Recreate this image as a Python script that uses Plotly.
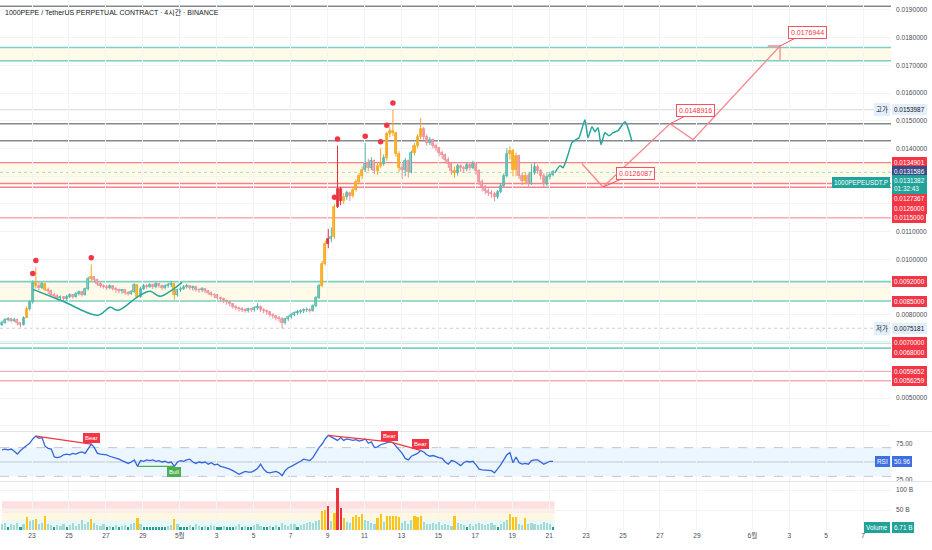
import plotly.graph_objects as go
import pandas as pd

# ---------------- data ----------------
start_time = "2025-04-21 09:00"
first_open = 0.00765
close = [0.00772,0.00781,0.00785,0.00779,0.00783,0.00770,0.00765,0.00790,0.00822,0.00845,
         0.00915,0.00905,0.00898,0.00912,0.00890,0.00886,0.00872,0.00868,0.00860,0.00863,
         0.00858,0.00866,0.00870,0.00866,0.00876,0.00881,0.00872,0.00892,0.00930,0.00935,
         0.00925,0.00912,0.00905,0.00902,0.00898,0.00903,0.00895,0.00889,0.00885,0.00888,
         0.00880,0.00877,0.00884,0.00908,0.00866,0.00895,0.00905,0.00902,0.00908,0.00900,
         0.00911,0.00905,0.00897,0.00903,0.00908,0.00912,0.00872,0.00888,0.00895,0.00900,
         0.00904,0.00896,0.00900,0.00890,0.00888,0.00893,0.00885,0.00880,0.00872,0.00870,
         0.00862,0.00858,0.00850,0.00845,0.00838,0.00830,0.00825,0.00822,0.00818,0.00815,
         0.00820,0.00817,0.00824,0.00830,0.00818,0.00815,0.00810,0.00800,0.00795,0.00790,
         0.00786,0.00772,0.00784,0.00792,0.00800,0.00806,0.00810,0.00813,0.00816,0.00819,
         0.00815,0.00832,0.00862,0.00905,0.00985,0.01055,0.01075,0.01080,0.01190,0.01255,
         0.01210,0.01225,0.01238,0.01228,0.01252,0.01280,0.01300,0.01322,0.01345,0.01330,
         0.01355,0.01320,0.01338,0.01345,0.01365,0.01452,0.01462,0.01455,0.01380,0.01330,
         0.01322,0.01356,0.01315,0.01382,0.01410,0.01440,0.01472,0.01442,0.01420,0.01432,
         0.01410,0.01400,0.01385,0.01375,0.01360,0.01345,0.01320,0.01310,0.01335,0.01330,
         0.01325,0.01340,0.01330,0.01345,0.01318,0.01280,0.01260,0.01248,0.01240,0.01235,
         0.01226,0.01242,0.01266,0.01300,0.01380,0.01392,0.01322,0.01372,0.01302,0.01282,
         0.01302,0.01272,0.01312,0.01332,0.01320,0.01300,0.01272,0.01296,0.01306,0.0131382]
high = [0.00780,0.00788,0.00792,0.00790,0.00789,0.00786,0.00774,0.00795,0.00830,0.00852,
        0.00925,0.00972,0.00918,0.00920,0.00915,0.00898,0.00890,0.00880,0.00874,0.00870,
        0.00868,0.00872,0.00878,0.00875,0.00882,0.00888,0.00886,0.00898,0.00938,0.00982,
        0.00940,0.00930,0.00918,0.00910,0.00908,0.00910,0.00906,0.00900,0.00895,0.00894,
        0.00892,0.00886,0.00890,0.00914,0.00910,0.00902,0.00912,0.00912,0.00915,0.00912,
        0.00918,0.00915,0.00910,0.00910,0.00916,0.00922,0.00915,0.00895,0.00902,0.00908,
        0.00912,0.00908,0.00906,0.00905,0.00896,0.00900,0.00897,0.00890,0.00884,0.00878,
        0.00874,0.00866,0.00862,0.00855,0.00850,0.00842,0.00835,0.00830,0.00828,0.00824,
        0.00826,0.00825,0.00830,0.00842,0.00834,0.00824,0.00820,0.00814,0.00806,0.00800,
        0.00796,0.00792,0.00790,0.00798,0.00806,0.00812,0.00818,0.00820,0.00824,0.00826,
        0.00824,0.00838,0.00868,0.00912,0.00995,0.01068,0.01110,0.01115,0.01200,0.01410,
        0.01262,0.01240,0.01248,0.01245,0.01262,0.01288,0.01312,0.01335,0.01420,0.01362,
        0.01368,0.01360,0.01350,0.01400,0.01378,0.01460,0.01478,0.0153987,0.01460,0.01390,
        0.01345,0.01366,0.01360,0.01392,0.01420,0.01452,0.01510,0.01478,0.01450,0.01442,
        0.01436,0.01418,0.01405,0.01392,0.01382,0.01368,0.01350,0.01335,0.01345,0.01342,
        0.01338,0.01350,0.01346,0.01356,0.01350,0.01325,0.01288,0.01268,0.01256,0.01250,
        0.01244,0.01250,0.01275,0.01310,0.01400,0.01408,0.01398,0.01385,0.01378,0.01312,
        0.01315,0.01310,0.01345,0.01348,0.01342,0.01326,0.01310,0.01310,0.01316,0.01322]
low = [0.00760,0.00768,0.00776,0.00772,0.00774,0.00762,0.00755,0.00762,0.00788,0.00815,
       0.00840,0.00895,0.00888,0.00893,0.00885,0.00875,0.00865,0.00858,0.00852,0.00855,
       0.00850,0.00852,0.00860,0.00858,0.00862,0.00870,0.00866,0.00870,0.00888,0.00922,
       0.00915,0.00905,0.00898,0.00895,0.00890,0.00892,0.00888,0.00880,0.00878,0.00876,
       0.00872,0.00870,0.00872,0.00880,0.00862,0.00862,0.00890,0.00895,0.00898,0.00893,
       0.00896,0.00898,0.00890,0.00892,0.00898,0.00900,0.00855,0.00866,0.00882,0.00890,
       0.00895,0.00890,0.00888,0.00884,0.00880,0.00882,0.00878,0.00872,0.00866,0.00860,
       0.00855,0.00848,0.00843,0.00836,0.00830,0.00822,0.00816,0.00812,0.00810,0.00808,
       0.00808,0.00810,0.00812,0.00818,0.00810,0.00806,0.00800,0.00792,0.00786,0.00780,
       0.00774,0.0075181,0.00765,0.00778,0.00786,0.00795,0.00800,0.00804,0.00806,0.00810,
       0.00808,0.00812,0.00828,0.00858,0.00900,0.00978,0.01040,0.01062,0.01075,0.01185,
       0.01195,0.01200,0.01215,0.01210,0.01222,0.01245,0.01272,0.01290,0.01315,0.01318,
       0.01322,0.01308,0.01305,0.01330,0.01338,0.01355,0.01440,0.01445,0.01370,0.01315,
       0.01290,0.01300,0.01295,0.01310,0.01375,0.01402,0.01432,0.01430,0.01410,0.01412,
       0.01400,0.01390,0.01372,0.01362,0.01350,0.01330,0.01305,0.01295,0.01302,0.01316,
       0.01312,0.01318,0.01320,0.01325,0.01305,0.01268,0.01245,0.01235,0.01228,0.01222,
       0.01210,0.01218,0.01238,0.01260,0.01295,0.01360,0.01300,0.01300,0.01290,0.01268,
       0.01272,0.01262,0.01268,0.01305,0.01308,0.01288,0.01262,0.01265,0.01288,0.01300]
volume_b = [14,18,7,16,12,17,7,15,33,22,
            25,28,16,18,35,15,12,7,13,10,
            15,8,12,17,11,14,24,16,19,28,
            18,12,9,14,7,11,8,13,7,10,
            12,7,15,18,29,14,8,7,8,7,
            8,7,8,7,9,12,27,14,7,8,
            7,12,8,15,10,7,11,8,13,9,
            7,8,10,7,8,7,9,14,8,10,
            7,8,12,16,9,7,8,10,7,13,
            8,18,12,10,14,16,8,12,15,17,
            20,18,22,25,48,51,60,22,42,106,
            54,29,20,18,33,37,32,39,24,22,
            18,16,29,39,20,36,35,34,35,33,
            18,22,16,24,35,33,34,20,16,14,
            18,15,20,13,16,12,10,35,18,15,
            12,8,16,10,14,18,15,12,16,18,
            12,8,14,20,24,40,33,32,15,13,
            29,14,18,16,12,15,20,18,14,6.71]
rsi = [67,68,67,68,65,61,66,70,73,76,
       82,86,83,84,72,69,68,57,56,57,
       60,61,60,62,61,63,64,62,68,75,
       70,62,61,61,60,58,57,55,54,52,
       50,48,50,53,44,52,51,53,52,53,
       51,52,50,51,49,50,44,50,52,51,
       53,54,50,48,50,49,50,47,49,46,
       47,44,43,42,40,38,36,33,35,37,
       36,36,38,41,47,40,36,35,36,37,
       35,31,38,42,44,46,48,51,54,53,
       52,56,64,70,75,82,87,85,82,80,
       84,80,82,81,80,81,79,80,82,76,
       78,70,71,74,75,76,78,77,72,67,
       62,55,53,58,60,62,66,64,60,58,
       59,57,56,55,50,47,52,51,48,45,
       49,51,50,51,46,40,39,39,38,38,
       35,40,46,53,60,63,49,57,49,47,
       48,47,52,53,53,50,47,49,51,50.96]
pivot_high_idx = [10, 11, 29, 108, 109, 118, 123, 125, 127]
bear_pairs = [(11, 29), (106, 126), (126, 136)]
bull_pairs = [(44, 56)]

teal_levels = [0.01764, 0.01716, 0.0092, 0.0085, 0.0070, 0.0068]
red_levels = [0.0134901, 0.0127367, 0.0126]
pink_levels = [0.0115, 0.0059652, 0.0056259]
gray_levels = [0.01913, 0.0148916, 0.01428]
high_price = 0.0153987
low_price = 0.0075181
last_price = 0.0131382
indicator_price = 0.0131586
zones = [(0.01716, 0.01764), (0.0127367, 0.0134901), (0.0085, 0.0092)]
red_label_vals = [0.0134901, 0.0127367, 0.0126, 0.0115, 0.0092, 0.0085,
                  0.0070, 0.0068, 0.0059652, 0.0056259]

proj_t = ["2025-05-22 18:40", "2025-05-23 22:00", "2025-05-27 13:00",
          "2025-05-28 19:00", "2025-06-02 12:00"]
proj_p = [0.013450, 0.0126087, 0.0148916, 0.014320, 0.0176944]
target_t = ["2025-06-01 20:00", "2025-06-02 12:00", "2025-06-02 12:00"]
target_p = [0.0176944, 0.0176944, 0.01720]

curve_left_t = ["2025-04-23 01:18", "2025-04-24 16:17", "2025-04-26 13:45", "2025-04-27 05:21",
                "2025-04-27 15:45", "2025-04-28 16:26", "2025-04-29 09:20", "2025-04-29 22:19",
                "2025-04-30 15:13", "2025-05-01 02:54"]
curve_left_p = [0.008921, 0.008489, 0.007986, 0.008273, 0.008165, 0.008633, 0.008849,
                0.008669, 0.008921, 0.009173]
curve_right_t = ["2025-05-21 07:35", "2025-05-21 14:05", "2025-05-21 18:00", "2025-05-22 00:29",
                 "2025-05-22 05:41", "2025-05-22 10:53", "2025-05-22 14:47", "2025-05-22 22:35",
                 "2025-05-23 02:28", "2025-05-23 07:40", "2025-05-23 11:34", "2025-05-23 15:28",
                 "2025-05-23 19:22", "2025-05-24 00:34", "2025-05-24 05:46", "2025-05-24 10:58",
                 "2025-05-24 17:28", "2025-05-25 02:33", "2025-05-25 06:27", "2025-05-25 11:39"]
curve_right_p = [0.013129, 0.013381, 0.013309, 0.013777, 0.014209, 0.014317, 0.014388, 0.015036,
                 0.014388, 0.014784, 0.014604, 0.014748, 0.014137, 0.014568, 0.014460, 0.014568,
                 0.014640, 0.014964, 0.014748, 0.014245]

vol_band_edges = [0, 25, 42, 55, 72]

tick_dates = ["2025-04-23", "2025-04-25", "2025-04-27", "2025-04-29", "2025-05-01", "2025-05-03",
              "2025-05-05", "2025-05-07", "2025-05-09", "2025-05-11", "2025-05-13", "2025-05-15",
              "2025-05-17", "2025-05-19", "2025-05-21", "2025-05-23", "2025-05-25", "2025-05-27",
              "2025-05-29", "2025-06-01", "2025-06-03", "2025-06-05", "2025-06-07"]
tick_text = ["23", "25", "27", "29", "5월", "3", "5", "7", "9", "11", "13", "15", "17", "19",
             "21", "23", "25", "27", "29", "6월", "3", "5", "7"]
price_ticks = [0.004, 0.005, 0.006, 0.007, 0.008, 0.009, 0.010, 0.011, 0.012, 0.013,
               0.014, 0.015, 0.016, 0.017, 0.018, 0.019]
price_tick_text = ["", "0.0050000", "", "", "0.0080000", "", "0.0100000", "0.0110000", "", "",
                   "0.0140000", "0.0150000", "0.0160000", "0.0170000", "0.0180000", "0.0190000"]

title = "1000PEPE / TetherUS PERPETUAL CONTRACT · 4시간 · BINANCE"

# ---------------- build ----------------
FONT = "Liberation Sans, Noto Sans CJK KR, sans-serif"
AX_FS = 6.6
LB_FS = 6.4
t = pd.date_range(start_time, periods=len(close), freq="4h")
opens = [first_open] + close[:-1]
n = len(close)

def vclass(v):
    if v >= 53:
        return "r"
    if v >= 26:
        return "y"
    if v < 9:
        return "d"
    return "n"

cls = [vclass(v) for v in volume_b]

def candle_style(i):
    c = cls[i]
    if c == "y":
        return "#fbc02d", "#f5a623"
    if c == "r":
        return "#ec3440", "#e0303b"
    if close[i] >= opens[i]:
        return "#a9d6cf", "#4fb6a8"
    return "#dcbcc2", "#f28b95"

fills, edges = zip(*[candle_style(i) for i in range(n)])

fig = go.Figure()

shapes = []
for lo, hi in zones:
    shapes.append(dict(type="rect", xref="paper", x0=0, x1=1, yref="y", y0=lo, y1=hi,
                       fillcolor="#fffbe8", line=dict(width=0), layer="below"))
for lv in teal_levels:
    shapes.append(dict(type="line", xref="paper", x0=0, x1=1, yref="y", y0=lv, y1=lv,
                       line=dict(color="#7ccfc2", width=1.6), layer="below"))
for lv in red_levels:
    shapes.append(dict(type="line", xref="paper", x0=0, x1=1, yref="y", y0=lv, y1=lv,
                       line=dict(color="#f7808b", width=1.4), layer="below"))
for lv in pink_levels:
    shapes.append(dict(type="line", xref="paper", x0=0, x1=1, yref="y", y0=lv, y1=lv,
                       line=dict(color="#f9a9b0", width=1.6), layer="below"))
for lv in gray_levels:
    shapes.append(dict(type="line", xref="paper", x0=0, x1=1, yref="y", y0=lv, y1=lv,
                       line=dict(color="#86888f", width=1.5), layer="below"))
shapes.append(dict(type="line", xref="paper", x0=0, x1=1, yref="y", y0=high_price, y1=high_price,
                   line=dict(color="#d6d8de", width=1), layer="below"))
shapes.append(dict(type="line", xref="paper", x0=0, x1=1, yref="y", y0=low_price, y1=low_price,
                   line=dict(color="#c9ccd3", width=1, dash="dot"), layer="below"))
shapes.append(dict(type="line", xref="paper", x0=0, x1=1, yref="y", y0=last_price, y1=last_price,
                   line=dict(color="#9fdcd5", width=1, dash="dot"), layer="below"))
shapes.append(dict(type="rect", xref="paper", x0=0, x1=1, yref="y2", y0=30, y1=70,
                   fillcolor="rgba(33,150,243,0.09)", line=dict(width=0), layer="below"))
for lv, d in [(70, "dash"), (30, "dash"), (50, "solid")]:
    shapes.append(dict(type="line", xref="paper", x0=0, x1=1, yref="y2", y0=lv, y1=lv,
                       line=dict(color="#c3c7d2", width=1, dash=d), layer="below"))
band_colors = ["#eaf7f7", "#fef8e2", "#fdece3", "#fde0e1"]
for k in range(len(vol_band_edges) - 1):
    shapes.append(dict(type="rect", xref="x", x0=t[0], x1=t[-1] + pd.Timedelta(hours=2),
                       yref="y3", y0=vol_band_edges[k], y1=vol_band_edges[k + 1],
                       fillcolor=band_colors[k], line=dict(width=0), layer="below"))
for yp in [1 - 431.5 / 530, 1 - 481.5 / 530]:
    shapes.append(dict(type="line", xref="paper", x0=0, x1=1.05, yref="paper", y0=yp, y1=yp,
                       line=dict(color="#e0e3eb", width=1)))

# wicks
wick_groups = {}
for i in range(n):
    wick_groups.setdefault(edges[i], []).append(i)
for col, idxs in wick_groups.items():
    xs, ys = [], []
    for i in idxs:
        xs += [t[i], t[i], None]
        ys += [low[i], high[i], None]
    fig.add_trace(go.Scatter(x=xs, y=ys, mode="lines", line=dict(color=col, width=1),
                             hoverinfo="skip", showlegend=False, xaxis="x", yaxis="y"))

# bodies
fig.add_trace(go.Bar(x=t, y=[max(abs(c - o), 0.00002) for o, c in zip(opens, close)],
                     base=[min(o, c) for o, c in zip(opens, close)],
                     width=4 * 3600 * 1000 * 0.66,
                     marker=dict(color=list(fills), line=dict(color=list(edges), width=0.8)),
                     hoverinfo="skip", showlegend=False, xaxis="x", yaxis="y"))

fig.add_trace(go.Scatter(x=[t[i] for i in pivot_high_idx],
                         y=[high[i] + 0.00024 for i in pivot_high_idx],
                         mode="markers", marker=dict(color="#f23645", size=5.5),
                         hoverinfo="skip", showlegend=False, xaxis="x", yaxis="y"))

fig.add_trace(go.Scatter(x=curve_left_t, y=curve_left_p, mode="lines",
                         line=dict(color="#26a69a", width=1.5, shape="spline", smoothing=1.0),
                         hoverinfo="skip", showlegend=False, xaxis="x", yaxis="y"))
fig.add_trace(go.Scatter(x=curve_right_t, y=curve_right_p, mode="lines",
                         line=dict(color="#26a69a", width=1.5, shape="spline", smoothing=0.6),
                         hoverinfo="skip", showlegend=False, xaxis="x", yaxis="y"))
fig.add_trace(go.Scatter(x=proj_t, y=proj_p, mode="lines", line=dict(color="#f7868e", width=1.3),
                         hoverinfo="skip", showlegend=False, xaxis="x", yaxis="y"))
fig.add_trace(go.Scatter(x=target_t, y=target_p, mode="lines", line=dict(color="#f7868e", width=1.3),
                         hoverinfo="skip", showlegend=False, xaxis="x", yaxis="y"))

fig.add_trace(go.Scatter(x=t, y=rsi, mode="lines", line=dict(color="#3366dd", width=1.3),
                         hoverinfo="skip", showlegend=False, xaxis="x", yaxis="y2"))
for a, b in bear_pairs:
    fig.add_trace(go.Scatter(x=[t[a], t[b]], y=[rsi[a], rsi[b]], mode="lines",
                             line=dict(color="#f23645", width=1.3),
                             hoverinfo="skip", showlegend=False, xaxis="x", yaxis="y2"))
for a, b in bull_pairs:
    fig.add_trace(go.Scatter(x=[t[a], t[b]], y=[rsi[a], rsi[b]], mode="lines",
                             line=dict(color="#4caf50", width=1.3),
                             hoverinfo="skip", showlegend=False, xaxis="x", yaxis="y2"))

vcol = {"n": "#a3dad4", "d": "#22a093", "y": "#fcc419", "r": "#f0303a"}
fig.add_trace(go.Bar(x=t, y=volume_b, width=4 * 3600 * 1000 * 0.7,
                     marker=dict(color=[vcol[c] for c in cls], line=dict(width=0)),
                     hoverinfo="skip", showlegend=False, xaxis="x", yaxis="y3"))

# ---------------- annotations ----------------
ann = []
def axis_label(text, y, yref, bg, fg, yshift=0):
    ann.append(dict(text=text, xref="paper", x=1, xanchor="left", xshift=1, yref=yref, y=y,
                    yanchor="middle", yshift=yshift, showarrow=False, bgcolor=bg,
                    bordercolor=bg, borderwidth=1, borderpad=1,
                    font=dict(family=FONT, size=LB_FS, color=fg), align="left"))

def side_tag(text, y, yref, bg, fg, yshift=0):
    ann.append(dict(text=text, xref="paper", x=1, xanchor="right", xshift=-1, yref=yref, y=y,
                    yanchor="middle", yshift=yshift, showarrow=False, bgcolor=bg,
                    bordercolor=bg, borderwidth=1, borderpad=1,
                    font=dict(family=FONT, size=LB_FS, color=fg)))

shift = {0.0127367: -15, 0.0126: -21, 0.0068: -4}
for v in red_label_vals:
    axis_label(f"{v:.7f}", v, "y", "#f23645", "white", shift.get(v, 0))
axis_label(f"{indicator_price:.7f}", indicator_price, "y", "#3c4a86", "white")
axis_label(f"{last_price:.7f}<br>01:32:43", last_price, "y", "#22a39a", "white", -12)
side_tag("1000PEPEUSDT.P", last_price, "y", "#22a39a", "white", -10)
axis_label(f"{high_price:.7f}", high_price, "y", "#e3effd", "#131722")
side_tag("고가", high_price, "y", "#e3effd", "#131722")
axis_label(f"{low_price:.7f}", low_price, "y", "#e3effd", "#131722")
side_tag("저가", low_price, "y", "#e3effd", "#131722")
axis_label(f"{rsi[-1]:.2f}", rsi[-1], "y2", "#3d6fe0", "white")
side_tag("RSI", rsi[-1], "y2", "#3d6fe0", "white")
axis_label(f"{volume_b[-1]:.2f} B", volume_b[-1], "y3", "#22a39a", "white", 0)
side_tag("Volume", volume_b[-1], "y3", "#22a39a", "white", 0)

for (tx, py, dx, dy) in [(proj_t[1], proj_p[1], 32, -14), (proj_t[2], proj_p[2], 26, -13),
                         (proj_t[4], proj_p[4], 27, -14)]:
    ann.append(dict(text=f"{py:.7f}", x=tx, y=py, xref="x", yref="y", showarrow=True,
                    ax=dx, ay=dy, arrowhead=0, arrowwidth=1, arrowcolor="#f7525f",
                    bgcolor="white", bordercolor="#f7525f", borderwidth=1, borderpad=2,
                    font=dict(family=FONT, size=7, color="#f23645")))

for a, b in bear_pairs:
    ann.append(dict(text="Bear", x=t[b], y=rsi[b], xref="x", yref="y2", showarrow=False,
                    yanchor="bottom", yshift=1, bgcolor="#f23645", bordercolor="#f23645",
                    borderpad=1, font=dict(family=FONT, size=6, color="white")))
for a, b in bull_pairs:
    ann.append(dict(text="Bull", x=t[b], y=rsi[b], xref="x", yref="y2", showarrow=False,
                    yanchor="top", yshift=-1, bgcolor="#4caf50", bordercolor="#4caf50",
                    borderpad=1, font=dict(family=FONT, size=6, color="white")))

ann.append(dict(text=title, xref="paper", yref="paper", x=0, y=1, xanchor="left", yanchor="middle",
                xshift=3, yshift=-12, showarrow=False,
                font=dict(family=FONT, size=7, color="#131722")))

H = 530.0
fig.update_layout(
    width=932, height=550,
    margin=dict(l=0, r=41, t=0, b=20),
    paper_bgcolor="white", plot_bgcolor="white",
    font=dict(family=FONT, size=AX_FS, color="#4a4d57"),
    showlegend=False, bargap=0, hovermode=False,
    shapes=shapes, annotations=ann,
    xaxis=dict(type="date", range=["2025-04-21 06:25", "2025-06-08 12:12"], anchor="y3",
               tickvals=tick_dates, ticktext=tick_text, showgrid=True, gridcolor="#f3f4f6",
               zeroline=False, showline=False, ticks="",
               tickfont=dict(size=AX_FS, color="#4a4d57"), fixedrange=True),
    yaxis=dict(domain=[1 - 431 / H, 1], range=[0.003813, 0.019353], side="right",
               tickvals=price_ticks, ticktext=price_tick_text, showgrid=True, gridcolor="#f3f4f6",
               zeroline=False, showline=False, ticks="", ticklabelstandoff=4,
               tickfont=dict(size=AX_FS, color="#4a4d57")),
    yaxis2=dict(domain=[1 - 481 / H, 1 - 432 / H], range=[23.6, 91.7], side="right",
                tickvals=[25, 75], ticktext=["25.00", "75.00"], showgrid=False,
                zeroline=False, showline=False, ticks="", ticklabelstandoff=4,
                tickfont=dict(size=AX_FS, color="#4a4d57")),
    yaxis3=dict(domain=[0, 1 - 482 / H], range=[0, 120], side="right",
                tickvals=[50, 100], ticktext=["50 B", "100 B"], showgrid=True, gridcolor="#f3f4f6",
                zeroline=False, showline=False, ticks="", ticklabelstandoff=4,
                tickfont=dict(size=AX_FS, color="#4a4d57")),
)

fig.write_html("out.html", config={"displayModeBar": False},
               post_script="document.body.style.margin='0';")
